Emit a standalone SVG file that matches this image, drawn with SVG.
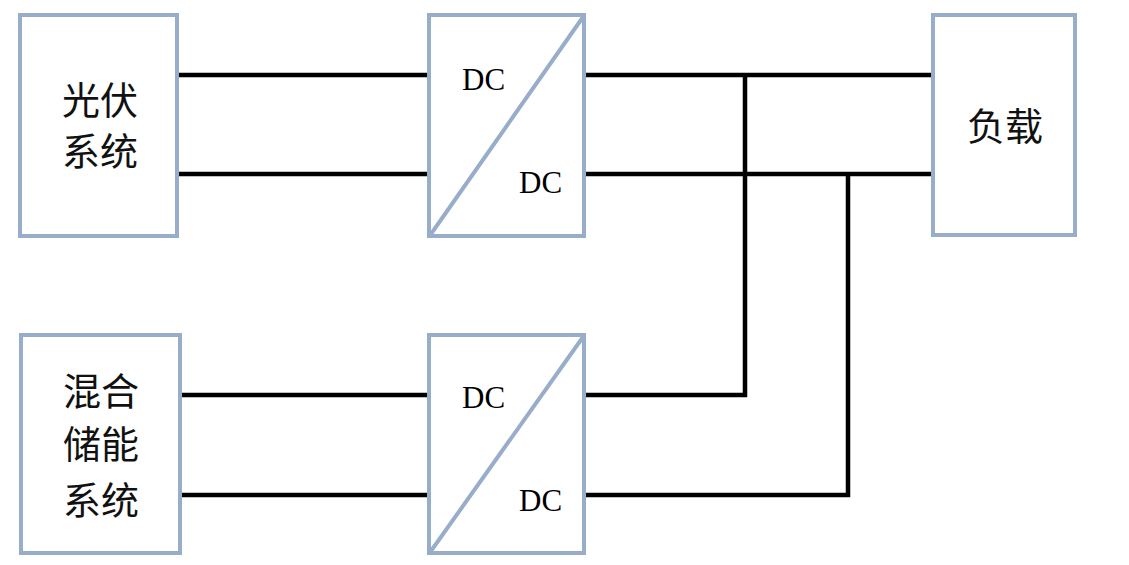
<svg xmlns="http://www.w3.org/2000/svg" width="1129" height="565" viewBox="0 0 1129 565">
<style>
.box{fill:#fff;stroke:#97adca;stroke-width:4}
.diag{stroke:#97adca;stroke-width:4;fill:none}
.wire{stroke:#000;stroke-width:4.5;fill:none;stroke-linejoin:miter}
.cjk{font-family:"Noto Sans CJK SC","Noto Sans",sans-serif;font-size:38px;fill:#111;text-anchor:middle;dominant-baseline:central}
.dc{font-family:"Liberation Serif",serif;font-size:31px;fill:#000}
</style>
<rect width="1129" height="565" fill="#fff"/>
<g id="connectors">
<path class="wire" d="M178 75H429M178 174H429"/>
<path class="wire" d="M180 395H429M180 495H429"/>
<path class="wire" d="M584 75H933M584 174H933"/>
<path class="wire" d="M584 395H745V75"/>
<path class="wire" d="M584 495H848V174"/>
</g>
<g id="pv">
<rect class="box" x="20" y="15" width="157" height="221"/>
<text class="cjk" x="100" y="97">光伏</text>
<text class="cjk" x="100" y="148">系统</text>
</g>
<g id="conv1">
<rect class="box" x="429" y="15" width="155" height="221"/>
<path class="diag" d="M431 234L583 17"/>
<text class="dc" x="462" y="90">DC</text>
<text class="dc" x="519" y="193">DC</text>
</g>
<g id="load">
<rect class="box" x="933" y="15" width="142" height="220"/>
<text class="cjk" x="1005" y="123">负载</text>
</g>
<g id="storage">
<rect class="box" x="21" y="335" width="159" height="218"/>
<text class="cjk" x="101" y="388">混合</text>
<text class="cjk" x="101" y="441">储能</text>
<text class="cjk" x="101" y="497">系统</text>
</g>
<g id="conv2">
<rect class="box" x="429" y="335" width="155" height="218"/>
<path class="diag" d="M431 551L583 337"/>
<text class="dc" x="462" y="408">DC</text>
<text class="dc" x="519" y="511">DC</text>
</g>
</svg>
